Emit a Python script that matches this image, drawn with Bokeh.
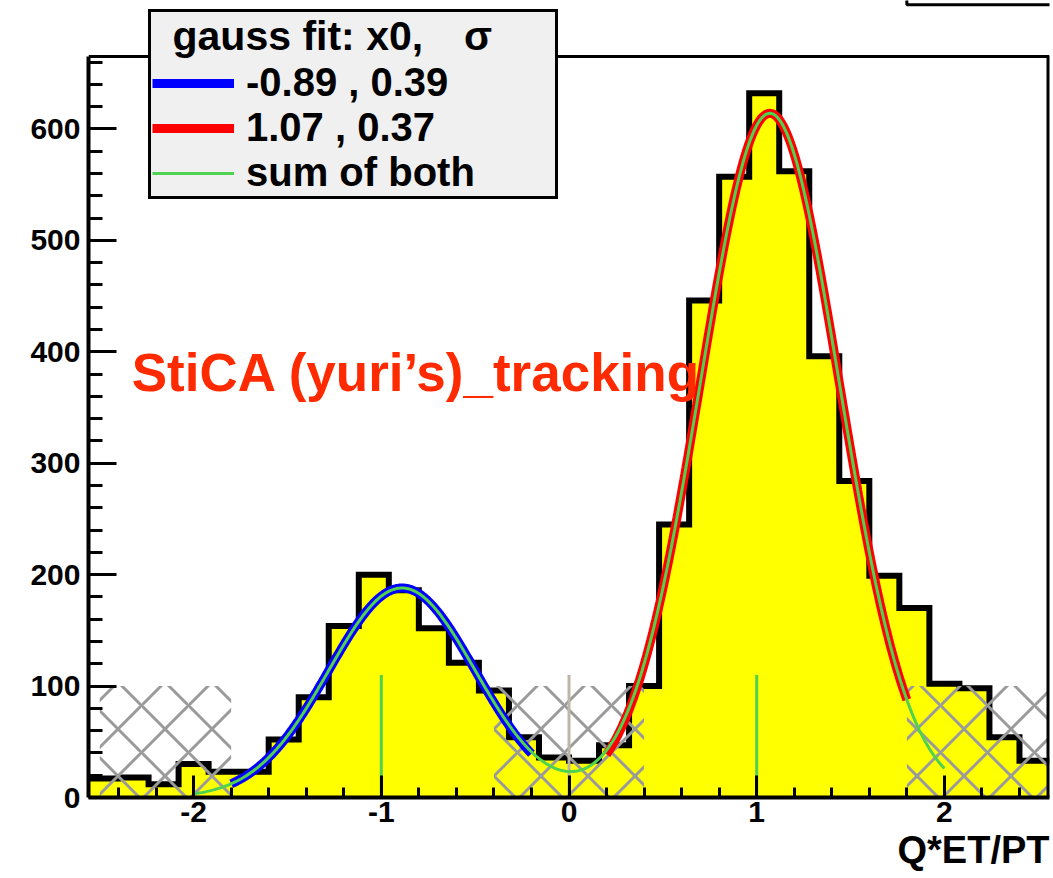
import numpy as np
from bokeh.plotting import figure
from bokeh.models import Range1d, FixedTicker, Legend, LegendItem, Label, Title
from bokeh.embed import file_html
from bokeh.resources import INLINE

# ---------------- data ----------------
bin_low = -2.56
bin_width = 0.16
counts = [17, 18, 12, 30, 23, 23, 52, 90, 154, 200, 186, 152, 121, 96, 54, 36,
          33, 47, 100, 245, 446, 557, 632, 562, 396, 284, 199, 170, 102, 98, 54, 33]

fit_x0 = [-0.89, 1.07]
fit_sigma = [0.39, 0.37]
fit_amp = [188, 614]
fit_lo = [-1.8, 0.2]
fit_hi = [-0.2, 1.8]
fit_colors = ["#0000ff", "#ff0000"]
sum_range = [-2.0, 2.0]

excl_left = [-2.5, -0.4, 1.8]
excl_right = [-1.8, 0.4, 2.55]
excl_top = 100

marker_x = [-1, 0, 1]
marker_top = 110
marker_colors = ["#4fd24f", "#bdb6a8", "#4fd24f"]

x_min, x_max = -2.56, 2.56
y_max = 665
x_ticks = [-2, -1, 0, 1, 2]
x_minor = [-2.4, -2.2, -1.8, -1.6, -1.4, -1.2, -0.8, -0.6, -0.4, -0.2,
           0.2, 0.4, 0.6, 0.8, 1.2, 1.4, 1.6, 1.8, 2.2, 2.4]
y_ticks = [0, 100, 200, 300, 400, 500, 600]
y_minor = [v for v in range(0, 661, 20) if v % 100 != 0]

# partially visible box at the top right (cut by the page edge)
corner_box_left = 1.8
corner_box_bottom = 711.5

FONT = "Liberation Sans"

# ---------------- layout (pixels) ----------------
W, H = 1053, 878
frame_left, frame_right, frame_top, frame_bottom = 88, 1049, 56, 797
# the frame is extended to the top of the canvas so the legend is not clipped
y_top = y_max * frame_bottom / (frame_bottom - frame_top)

p = figure(width=W, height=H, x_range=Range1d(x_min, x_max), y_range=Range1d(0, y_top),
           output_backend="svg", toolbar_location=None,
           min_border_left=frame_left, min_border_right=W - frame_right,
           min_border_top=0, min_border_bottom=H - frame_bottom)
p.xgrid.visible = False
p.ygrid.visible = False
p.background_fill_color = "white"
p.border_fill_color = "white"
p.outline_line_color = None

p.xaxis.ticker = FixedTicker(ticks=x_ticks, minor_ticks=x_minor)
p.yaxis.ticker = FixedTicker(ticks=y_ticks, minor_ticks=y_minor)
p.xaxis.major_label_overrides = {t: str(t) for t in x_ticks}
p.yaxis.bounds = (0, y_max)
for ax in (p.xaxis, p.yaxis):
    ax.axis_line_width = 4
    ax.major_tick_out = 0
    ax.minor_tick_out = 0
    ax.major_tick_line_width = 3
    ax.minor_tick_line_width = 3
    ax.major_tick_line_color = "black"
    ax.minor_tick_line_color = "black"
    ax.axis_line_color = "black"
    ax.major_label_text_font = FONT
    ax.major_label_text_font_size = "30px"
    ax.major_label_text_font_style = "bold"
    ax.major_label_text_color = "black"
p.xaxis.major_tick_in = 22
p.xaxis.minor_tick_in = 10
p.yaxis.major_tick_in = 28
p.yaxis.minor_tick_in = 14
p.xaxis.major_label_standoff = 4
p.yaxis.major_label_standoff = 8

# histogram
edges = bin_low + bin_width * np.arange(len(counts) + 1)
steps = list(counts) + [counts[-1]]
p.varea_step(x=edges, y1=[0] * len(steps), y2=steps, step_mode="after", fill_color="#ffff00")
p.step(x=edges, y=steps, mode="after", line_color="black", line_width=6, line_join="miter")

# excluded (hatched) regions
p.quad(left=excl_left, right=excl_right, bottom=0, top=excl_top,
       fill_color=None, line_color=None,
       hatch_pattern="diagonal_cross", hatch_color="#9a9a9a",
       hatch_scale=47, hatch_weight=3)

# marker lines
p.segment(x0=marker_x, y0=0, x1=marker_x, y1=marker_top,
          line_color=marker_colors, line_width=3)

# fits
def gauss(x, a, m, s):
    return a * np.exp(-0.5 * ((x - m) / s) ** 2)

fit_renderers = []
for a, m, s, lo, hi, c in zip(fit_amp, fit_x0, fit_sigma, fit_lo, fit_hi, fit_colors):
    xs = np.linspace(lo, hi, 300)
    r = p.line(xs, gauss(xs, a, m, s), line_color=c, line_width=9)
    fit_renderers.append(r)

xs = np.linspace(sum_range[0], sum_range[1], 600)
ys = sum(gauss(xs, a, m, s) for a, m, s in zip(fit_amp, fit_x0, fit_sigma))
sum_r = p.line(xs, ys, line_color="#4fd24f", line_width=3)

# frame (top and right) drawn by hand
p.segment(x0=[x_min, x_max], y0=[y_max, 0], x1=[x_max, x_max], y1=[y_max, y_max],
          line_color="black", line_width=[3, 6])

# cut-off box at the top right
p.quad(left=[corner_box_left], right=[x_max + 1], bottom=[corner_box_bottom], top=[y_top + 50],
       fill_color=None, line_color="black", line_width=3)

# text label
p.add_layout(Label(x=-2.33, y=381, text="StiCA (yuri\u2019s)_tracking",
                   text_color="#ff2a00", text_font=FONT, text_font_size="53px",
                   text_font_style="bold", text_baseline="alphabetic"))

# legend
items = [LegendItem(label=f"{m:.2f} , {s:.2f}", renderers=[r])
         for m, s, r in zip(fit_x0, fit_sigma, fit_renderers)]
items.append(LegendItem(label="sum of both", renderers=[sum_r]))
legend = Legend(items=items, location=(148 - frame_left, frame_bottom - 199),
                title="\u2002gauss fit: x0,\u2002\u2002\u03c3",
                title_text_font=FONT, title_text_font_size="41px",
                title_text_font_style="bold", title_text_color="black", title_standoff=0,
                label_text_font=FONT, label_text_font_size="40px",
                label_text_font_style="bold", label_text_color="black",
                glyph_width=82, glyph_height=40, label_height=40, label_width=308,
                label_standoff=12, padding=1, spacing=0, margin=0,
                background_fill_color="#f0f0f0", background_fill_alpha=1,
                border_line_color="black", border_line_alpha=1, border_line_width=3)
p.add_layout(legend)

# x-axis title
p.add_layout(Title(text="Q*ET/PT", align="right", text_font=FONT, text_font_size="38px",
                   text_font_style="bold", text_color="black", standoff=4), "below")

open("out.html", "w").write(file_html(p, INLINE))
